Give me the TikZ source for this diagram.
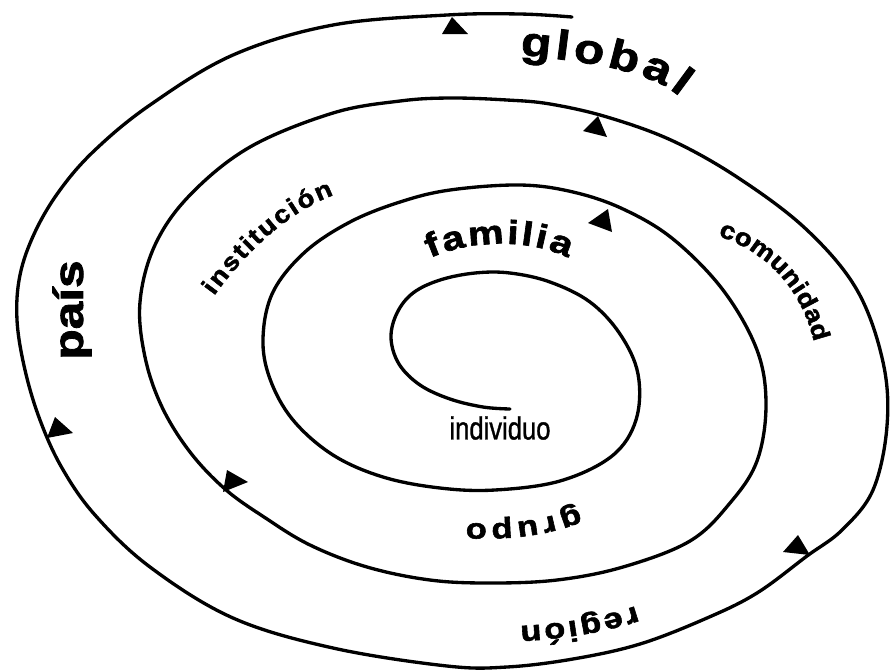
\documentclass[tikz,border=0pt]{standalone}
\usepackage{fontspec}
\setmainfont{Liberation Sans}
\newfontfamily\labfont{Liberation Sans}[FakeBold=2, FakeStretch=1.2]
\newfontfamily\labfontn{Liberation Sans}[FakeBold=2, FakeStretch=1.12]
\newfontfamily\indfont{Liberation Sans}[FakeBold=1.2]
\usetikzlibrary{decorations.text}
\newcommand\labBig{\labfont\bfseries\fontsize{31}{31}\selectfont}
\newcommand\labMid{\labfont\bfseries\fontsize{25}{25}\selectfont}
\newcommand\labSmall{\labfontn\bfseries\fontsize{18.5}{18.5}\selectfont}
\newcommand\labLow{\labfont\bfseries\fontsize{21.5}{21.5}\selectfont}
\tikzset{
  spiralline/.style={line width=2.5pt, line cap=round, line join=round},
  tri/.style={fill=black},
}
\begin{document}
\begin{tikzpicture}[x=0.75pt,y=-0.75pt]
\useasboundingbox (0,0) rectangle (890,669);
% spiral
\draw[spiralline] plot[smooth, tension=0.6] coordinates {
(510,409) (483,407) (450,399) (420,385) (399,364) (391,338) (397,313) (413,293)
(440,280) (475,273) (510,273) (550,282) (590,302) (620,334) (638,374) (636,420)
(612,456) (560,481) (495,490) (440,488) (383,477) (333,455) (293,420) (270,379)
(263,338) (273,292) (305,252) (350,222) (400,202) (450,190) (520,185) (573,192)
(623,209) (673,239) (723,290) (757,350) (766,405) (757,461) (730,503) (690,541)
(623,567) (557,580) (490,583) (430,580) (367,567) (310,545) (264,517) (225,489)
(190,452) (162,407) (145,357) (140,302) (155,245) (190,195) (250,147) (333,113)
(400,101) (450,98)
(507,100) (550,104) (607,117) (673,141) (740,179) (807,230) (857,290) (883,362)
(887,426) (873,490) (842,530) (807,556) (757,593) (707,618) (640,644) (573,659)
(507,667) (447,666) (333,648) (233,618) (150,567) (95,515) (62,468) (40,420)
(25,370) (17,320) (20,275) (35,232) (60,190) (95,150) (150,105) (233,55) (333,25)
(447,15) (520,14) (572,17)};
% arrow marks
\fill[tri] (442,34) -- (468,34) -- (452,17) -- cycle;
\fill[tri] (583,131) -- (607,137) -- (598,116) -- cycle;
\fill[tri] (588,223) -- (608,209) -- (612,232) -- cycle;
\fill[tri] (227,470) -- (248,482) -- (223,492) -- cycle;
\fill[tri] (55,417) -- (73,433) -- (47,438) -- cycle;
\fill[tri] (798,535) -- (783,552) -- (810,555) -- cycle;
% curved labels
\path[decorate, decoration={text along path, text align=fit to path,
  text={|\labBig|global}}] (520,55) .. controls (572,60) and (648,68) .. (680,97);
\path[decorate, decoration={text along path, text align=fit to path,
  text={|\labMid|familia}}] (430,258) .. controls (470,240) and (530,238) .. (568,258);
\path[decorate, decoration={text along path, text align=fit to path,
  text={|\labSmall|institución}}] (214,296) .. controls (246,252) and (288,212) .. (334,195);
\path[decorate, decoration={text along path, text align=fit to path,
  text={|\labSmall|comunidad}}] (718,236) .. controls (762,250) and (800,284) .. (814,342);
\path[decorate, decoration={text along path, text align=fit to path,
  text={|\labLow|grupo}}] (578,507) .. controls (545,521) and (505,525) .. (466,523);
\path[decorate, decoration={text along path, text align=fit to path,
  text={|\labLow|región}}] (636,606) .. controls (600,618) and (560,624) .. (520,626);
\node[rotate=90, inner sep=0pt, font=\labBig] (pais) at (72,310) {país};
\node[inner sep=0pt, xscale=0.8, font=\indfont\fontsize{24}{24}\selectfont] (individuo) at (500,428) {individuo};
\end{tikzpicture}
\end{document}
